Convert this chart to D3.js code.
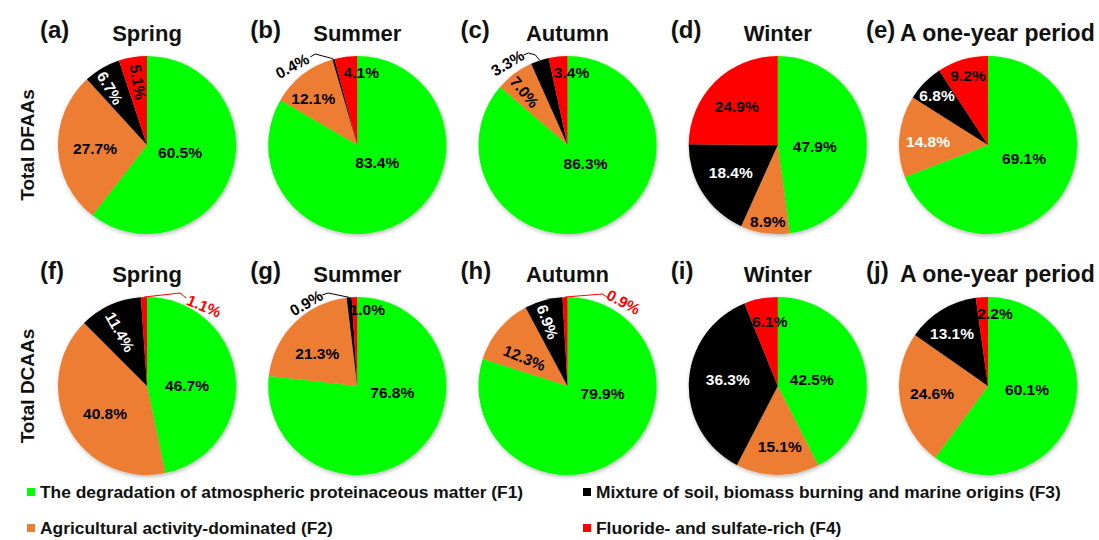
<!DOCTYPE html>
<html>
<head>
<meta charset="utf-8">
<script src="https://cdn.jsdelivr.net/npm/d3@7"></script>
<style>
  body { margin: 0; background: #fff; }
  svg { display: block; font-family: "Liberation Sans", Arial, sans-serif; font-weight: bold; }
</style>
</head>
<body>
<svg id="chart" width="1099" height="540"></svg>
<script>
// Source factors (PMF) and their colours
const factors = [
  "The degradation of atmospheric proteinaceous matter (F1)",
  "Agricultural activity-dominated (F2)",
  "Mixture of soil, biomass burning and marine origins (F3)",
  "Fluoride- and sulfate-rich (F4)"
];
const factorColors = ["#00ff00", "#ed7d31", "#000000", "#ff0000"];

const periods = ["Spring", "Summer", "Autumn", "Winter", "A one-year period"];
const measures = ["Total DFAAs", "Total DCAAs"];
const panelTags = [
  ["(a)", "(b)", "(c)", "(d)", "(e)"],
  ["(f)", "(g)", "(h)", "(i)", "(j)"]
];

// Factor contributions (%), order F1..F4, per period
const dfaaShares = [
  [60.5, 27.7, 6.7, 5.1],
  [83.4, 12.1, 0.4, 4.1],
  [86.3, 7.0, 3.3, 3.4],
  [47.9, 8.9, 18.4, 24.9],
  [69.1, 14.8, 6.8, 9.2]
];
const dcaaShares = [
  [46.7, 40.8, 11.4, 1.1],
  [76.8, 21.3, 0.9, 1.0],
  [79.9, 12.3, 6.9, 0.9],
  [42.5, 15.1, 36.3, 6.1],
  [60.1, 24.6, 13.1, 2.2]
];
const shareRows = [dfaaShares, dcaaShares];

// Label placement per slice: offset from the pie centre, rotation, fill,
// and an optional leader path (points after the slice edge).
const W = "#ffffff", K = "#000000", R = "#ff0000";
const labelLayout = [
  [
    [[33, 7, 0, K], [-52, 3, 0, K], [-37, -57, 59, W], [-9, -63, 81, K]],
    [[20, 17, 0, K], [-44, -47, 0, K], [-65, -79, -28, K, [[-27, -87], [-42, -91], [-47, -88]]], [4, -73, 0, K]],
    [[18, 18, 0, K], [-43, -53, 50, K], [-60, -82, -31, K, [[-32, -90], [-39, -92], [-44, -90]]], [4, -73, 0, K]],
    [[37, 1, 0, K], [-10, 76, 0, K], [-47, 27, 0, W], [-41, -39, 0, K]],
    [[36, 13, 0, K], [-60, -4, 0, W], [-51, -50, 0, W], [-20, -70, 0, K]]
  ],
  [
    [[40, -1, 0, K], [-42, 27, 0, K], [-27, -54, 60, W], [57, -80, 23, R, [[33, -93], [39, -88]]]],
    [[35, 6, 0, K], [-40, -33, 0, K], [-51, -83, -30, K, [[-29, -93], [-35, -91]]], [10, -77, 0, K]],
    [[35, 7, 0, K], [-43, -28, 22, K], [-20, -64, 70, W], [56, -84, 28, R, [[35, -92], [41, -88]]]],
    [[34, -7, 0, K], [2, 60, 0, K], [-50, -7, 0, W], [-8, -65, 0, K]],
    [[39, 3, 0, K], [-56, 7, 0, K], [-36, -53, 0, W], [7, -73, 0, K]]
  ]
];

const svg = d3.select("#chart");
const radius = 89;

const x = d3.scalePoint().domain(periods).range([147, 988]);
const y = d3.scalePoint().domain(measures).range([145, 386]);
const color = d3.scaleOrdinal().domain(factors).range(factorColors);

const pie = d3.pie().sort(null).value(d => d);
const arc = d3.arc().innerRadius(0).outerRadius(radius);

// soft shadow under each pie
const defs = svg.append("defs");
defs.append("filter").attr("id", "pieShadow")
  .attr("x", "-20%").attr("y", "-20%").attr("width", "140%").attr("height", "140%")
  .append("feDropShadow")
  .attr("dx", 1).attr("dy", 1.5).attr("stdDeviation", 2)
  .attr("flood-color", "#000").attr("flood-opacity", 0.3);

measures.forEach((m, ri) => {
  const cy = y(m);

  // row title
  svg.append("text")
    .attr("transform", `translate(27,${cy}) rotate(-90)`)
    .attr("text-anchor", "middle")
    .attr("dominant-baseline", "central")
    .style("font-size", "19px")
    .attr("fill", "#111")
    .text(m);

  periods.forEach((p, ci) => {
    const cx = x(p);
    const g = svg.append("g").attr("transform", `translate(${cx},${cy})`);
    const arcs = pie(shareRows[ri][ci]);

    g.append("g").attr("filter", "url(#pieShadow)")
      .selectAll("path").data(arcs).join("path")
      .attr("d", arc)
      .attr("fill", (d, i) => color(factors[i]));

    // panel tag and title
    const isYear = ci === periods.length - 1;
    svg.append("text")
      .attr("x", isYear ? cx - 122 : cx - radius - 18)
      .attr("y", cy - 107)
      .style("font-size", "24px").attr("fill", "#111")
      .text(panelTags[ri][ci]);
    svg.append("text")
      .attr("x", isYear ? cx - 88 : cx)
      .attr("y", cy - 104)
      .attr("text-anchor", isYear ? "start" : "middle")
      .style("font-size", isYear ? "23px" : "22px").attr("fill", "#111")
      .text(p);

    // slice labels
    arcs.forEach((a, i) => {
      const [dx, dy, rot, fill, leader] = labelLayout[ri][ci][i];
      if (leader) {
        const mid = (a.startAngle + a.endAngle) / 2;
        const edge = [Math.sin(mid) * radius, -Math.cos(mid) * radius];
        g.append("path")
          .attr("d", d3.line()([edge, ...leader]))
          .attr("fill", "none")
          .attr("stroke", fill === R ? R : "#000")
          .attr("stroke-width", 1);
      }
      g.append("text")
        .attr("transform", `translate(${dx},${dy}) rotate(${rot})`)
        .attr("text-anchor", "middle")
        .attr("dominant-baseline", "central")
        .style("font-size", "15.5px")
        .attr("fill", fill)
        .text(`${a.data.toFixed(1)}%`);
    });
  });
});

// legend
const legendPos = [[27, 492], [27, 528], [583, 492], [583, 528]];
factors.forEach((f, i) => {
  const [lx, ly] = legendPos[i];
  svg.append("rect")
    .attr("x", lx).attr("y", ly - 4).attr("width", 8).attr("height", 8)
    .attr("fill", color(f));
  svg.append("text")
    .attr("x", lx + 13).attr("y", ly)
    .attr("dominant-baseline", "central")
    .style("font-size", "17.4px").attr("fill", "#111")
    .text(f);
});
</script>
</body>
</html>
